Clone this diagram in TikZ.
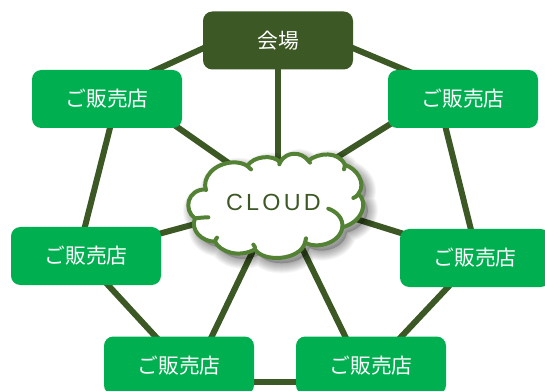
\documentclass[tikz,border=0pt]{standalone}
\usepackage{fontspec}
\setmainfont{Noto Sans CJK JP}
\newfontfamily\cloudfont[LetterSpace=14]{Liberation Sans}
\usetikzlibrary{calc}
\definecolor{venuegreen}{HTML}{3C5825}
\definecolor{shopgreen}{HTML}{00B050}
\definecolor{cloudedge}{HTML}{548235}
\pgfdeclarelayer{bg}
\pgfsetlayers{bg,main}
\tikzset{
  boxnode/.style={rectangle,rounded corners=7pt,minimum width=112.5pt,minimum height=43.5pt,inner sep=0pt,text=white,font=\fontsize{15.6pt}{18pt}\selectfont},
  shop/.style={boxnode,fill=shopgreen},
  venuebox/.style={boxnode,fill=venuegreen},
  link/.style={draw=venuegreen,line width=4.5pt},
  cloudline/.style={draw=cloudedge,line width=3pt,line cap=round,line join=round},
}
\newcommand{\cloudoutline}{(108,180) .. controls (95,145) and (130,100) .. (190,97)
 .. controls (205,97) and (220,100) .. (232,108)
 .. controls (250,78) and (310,72) .. (330,97)
 .. controls (350,62) and (395,65) .. (415,92)
 .. controls (445,68) and (505,62) .. (525,105)
 .. controls (560,115) and (590,160) .. (565,192)
 .. controls (595,215) and (580,275) .. (517,292)
 .. controls (510,340) and (440,358) .. (405,338)
 .. controls (390,392) and (280,398) .. (255,358)
 .. controls (205,385) and (150,365) .. (135,335)
 .. controls (95,335) and (60,300) .. (75,265)
 .. controls (40,240) and (50,178) .. (108,178) -- cycle}
\begin{document}
\begin{tikzpicture}[x=0.75pt,y=-0.75pt]
\useasboundingbox (0,0) rectangle (545,391);
\clip (0,0) rectangle (545,391);
% shadow and cloud
\begin{scope}[shift={(170,130)},x=0.25pt,y=-0.25pt]
  \foreach \w in {60,54,48,42,36,30,24,18,12,6}{
    \draw[black,opacity=0.035,line width=\w*0.25pt,line join=round,shift={(14,16)}] \cloudoutline;
  }
  \fill[black,opacity=0.2,shift={(14,16)}] \cloudoutline;
  \fill[white] \cloudoutline;
  \draw[cloudline] \cloudoutline;
  \draw[cloudline] (108,180) -- (105,178);
  \draw[cloudline] (232,108) .. controls (235,112) and (240,115) .. (243,118);
  \draw[cloudline] (330,97) -- (328,103);
  \draw[cloudline] (415,92) -- (420,98);
  \draw[cloudline] (525,105) -- (522,118);
  \draw[cloudline] (565,192) .. controls (562,197) and (556,202) .. (550,204);
  \draw[cloudline] (475,236) .. controls (500,245) and (520,265) .. (517,292);
  \draw[cloudline] (405,338) -- (408,325);
  \draw[cloudline] (255,358) .. controls (256,352) and (254,348) .. (250,344);
  \draw[cloudline] (135,335) .. controls (136,330) and (138,326) .. (141,323);
  \draw[cloudline] (75,265) .. controls (85,264) and (100,262) .. (115,262);
\end{scope}
\node[inner sep=0pt,text=venuegreen,font=\cloudfont\fontsize{17.5pt}{20pt}\selectfont] (hub) at (273.5,202) {CLOUD};
% boxes
\node[venuebox] (venue) at (278,40.5) {会場};
\node[shop] (tl) at (107,99) {ご販売店};
\node[shop] (tr) at (463,99) {ご販売店};
\node[shop] (ml) at (86,256) {ご販売店};
\node[shop] (mr) at (475,258) {ご販売店};
\node[shop] (bl) at (179,365.5) {ご販売店};
\node[shop] (br) at (371,365.5) {ご販売店};
\begin{pgfonlayer}{bg}
\fill[white] (0,0) rectangle (545,391);
\draw[link] ([shift={(-48,-4.5)}]venue.center) -- ([shift={(3,-8)}]tl.center);
\draw[link] ([shift={(52,-2)}]venue.center) -- ([shift={(-33,-18.5)}]tr.center);
\draw[link] ([shift={(0,0)}]venue.center) -- ([shift={(4.5,-32)}]hub.center);
\draw[link] ([shift={(43,9)}]tl.center) -- ([shift={(-33.5,-31)}]hub.center);
\draw[link] ([shift={(-63,19)}]tr.center) -- ([shift={(46.5,-34)}]hub.center);
\draw[link] ([shift={(8.8,6)}]tl.center) -- ([shift={(-7,-6)}]ml.center);
\draw[link] ([shift={(-23,6)}]tr.center) -- ([shift={(1,-8)}]mr.center);
\draw[link] ([shift={(54,-17)}]ml.center) -- ([shift={(-63.5,18)}]hub.center);
\draw[link] ([shift={(-55,-19)}]mr.center) -- ([shift={(66.5,12)}]hub.center);
\draw[link] ([shift={(4,9.5)}]ml.center) -- ([shift={(-4,-7.8)}]bl.center);
\draw[link] ([shift={(23.4,-9.5)}]bl.center) -- ([shift={(-12.8,33)}]hub.center);
\draw[link] ([shift={(-18.2,-13.5)}]br.center) -- ([shift={(22.2,33)}]hub.center);
\draw[link] ([shift={(-10,11)}]mr.center) -- ([shift={(14,-11.5)}]br.center);
\draw[link] ([shift={(0,16.5)}]bl.center) -- ([shift={(0,16.5)}]br.center);
\end{pgfonlayer}
\end{tikzpicture}
\end{document}
